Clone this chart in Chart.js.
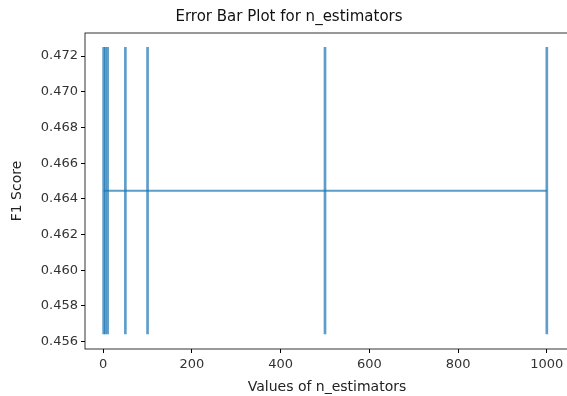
<!DOCTYPE html>
<html>
<head>
<meta charset="utf-8">
<script src="https://cdn.jsdelivr.net/npm/chart.js@4"></script>
<style>
  body { margin: 0; overflow: hidden; background: #fff; }
</style>
</head>
<body>
<canvas id="myChart" width="574" height="396"></canvas>
<script>
const nEstimators = [1, 5, 10, 50, 100, 500, 1000];
const meanF1 = [0.46446, 0.46446, 0.46446, 0.46446, 0.46446, 0.46446, 0.46446];
const stdF1 = [0.00803, 0.00803, 0.00803, 0.00803, 0.00803, 0.00803, 0.00803];
const xTicks = [0, 200, 400, 600, 800, 1000];
const yTicks = [0.456, 0.458, 0.46, 0.462, 0.464, 0.466, 0.468, 0.47, 0.472];

const blue = 'rgba(31, 119, 180, 0.72)';
const font = 'DejaVu Sans';

const frame = {
  id: 'frame',
  afterDraw(chart) {
    const { ctx, chartArea: a } = chart;
    ctx.save();
    ctx.strokeStyle = '#000';
    ctx.lineWidth = 0.8;
    ctx.strokeRect(a.left, a.top, a.right - a.left, a.bottom - a.top);
    ctx.restore();
  },
};

const ctx = document.getElementById('myChart');
new Chart(ctx, {
  type: 'bar',
  data: {
    datasets: [
      {
        type: 'line',
        data: nEstimators.map((x, i) => ({ x: x, y: meanF1[i] })),
        borderColor: blue,
        borderWidth: 2,
        pointRadius: 0,
        tension: 0,
      },
      {
        type: 'bar',
        data: nEstimators.map((x, i) => ({ x: x, y: [meanF1[i] - stdF1[i], meanF1[i] + stdF1[i]] })),
        backgroundColor: blue,
        borderWidth: 0,
        barThickness: 2,
        grouped: false,
      },
    ],
  },
  plugins: [frame],
  options: {
    responsive: false,
    animation: false,
    layout: { padding: { left: 9, right: 5, top: 0, bottom: 0 } },
    plugins: {
      legend: { display: false },
      tooltip: { enabled: false },
      title: {
        display: true,
        text: 'Error Bar Plot for n_estimators',
        color: '#111',
        font: { family: font, size: 15, weight: 'normal' },
        padding: { top: 8, bottom: 7 },
      },
    },
    scales: {
      x: {
        type: 'linear',
        offset: false,
        min: -41,
        max: 1050,
        afterBuildTicks: s => { s.ticks = xTicks.map(v => ({ value: v })); },
        afterFit: s => { s.height = 47; },
        grid: { offset: false, drawOnChartArea: false, drawTicks: true, tickLength: 4, tickColor: '#000' },
        border: { display: false },
        ticks: {
          color: '#333',
          font: { family: font, size: 13 },
          padding: 4,
          maxRotation: 0,
          callback: v => String(v),
        },
        title: {
          display: true,
          text: 'Values of n_estimators',
          color: '#222',
          font: { family: font, size: 14 },
          padding: { top: 0, bottom: 0 },
        },
      },
      y: {
        min: 0.45559,
        max: 0.47329,
        afterBuildTicks: s => { s.ticks = yTicks.map(v => ({ value: v })); },
        afterFit: s => { s.width = 76; },
        grid: { drawOnChartArea: false, drawTicks: true, tickLength: 4, tickColor: '#000' },
        border: { display: false },
        ticks: {
          color: '#333',
          font: { family: font, size: 13 },
          padding: 3,
          callback: v => v.toFixed(3),
        },
        title: {
          display: true,
          text: 'F1 Score',
          color: '#222',
          font: { family: font, size: 14 },
          padding: { top: 0, bottom: 4 },
        },
      },
    },
  },
});
</script>
</body>
</html>
